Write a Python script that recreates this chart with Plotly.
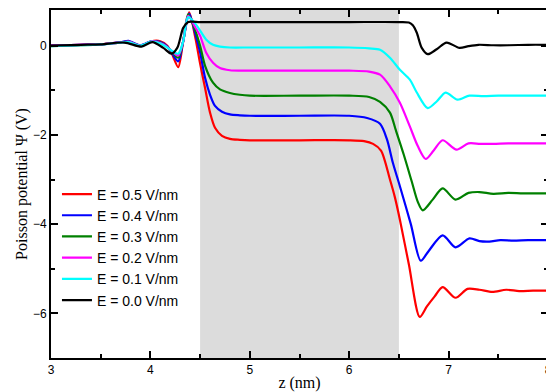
import plotly.graph_objects as go

# ---- data ----
z_05 = [3.0, 3.3, 3.5, 3.7, 3.78, 3.9, 4.01, 4.1, 4.17, 4.22, 4.28, 4.33, 4.39, 4.45, 4.5,
        4.55, 4.6, 4.65, 4.72, 4.8, 4.9, 5.0, 5.5, 6.0, 6.15, 6.24, 6.32, 6.41, 6.46, 6.51,
        6.6, 6.71, 6.78, 6.86, 6.94, 7.07, 7.19, 7.31, 7.44, 7.58, 7.71, 7.85, 8.0]
psi_05 = [0.0, 0.02, 0.03, 0.07, 0.09, 0.0, 0.1, 0.1, 0.0, -0.2, -0.48, 0.1, 0.75, 0.2, -0.4,
          -0.95, -1.5, -1.84, -2.02, -2.09, -2.11, -2.12, -2.12, -2.12, -2.14, -2.2, -2.35, -3.0, -3.4, -3.9,
          -4.9, -6.08, -5.85, -5.62, -5.41, -5.65, -5.45, -5.47, -5.52, -5.47, -5.5, -5.49, -5.49]

z_04 = [3.0, 3.3, 3.5, 3.7, 3.78, 3.9, 4.01, 4.1, 4.17, 4.22, 4.28, 4.33, 4.39, 4.45, 4.5,
        4.55, 4.6, 4.65, 4.72, 4.8, 4.9, 5.0, 5.5, 6.0, 6.18, 6.31, 6.38, 6.44, 6.51, 6.62,
        6.72, 6.8, 6.94, 7.07, 7.21, 7.31, 7.41, 7.52, 7.65, 7.8, 8.0]
psi_04 = [0.0, 0.02, 0.03, 0.08, 0.11, 0.01, 0.1, 0.08, -0.02, -0.18, -0.35, 0.1, 0.72, 0.28, -0.15,
          -0.72, -1.1, -1.35, -1.48, -1.54, -1.56, -1.57, -1.57, -1.57, -1.62, -1.75, -2.1, -2.63, -3.15, -4.0,
          -4.82, -4.6, -4.25, -4.52, -4.32, -4.38, -4.39, -4.36, -4.37, -4.36, -4.36]

z_03 = [3.0, 3.3, 3.5, 3.7, 3.78, 3.9, 4.01, 4.1, 4.17, 4.22, 4.28, 4.33, 4.38, 4.45, 4.5,
        4.55, 4.63, 4.7, 4.8, 4.9, 5.0, 5.5, 6.0, 6.2, 6.31, 6.41, 6.47, 6.55, 6.63, 6.69,
        6.74, 6.84, 6.94, 7.07, 7.2, 7.31, 7.45, 7.6, 7.75, 8.0]
psi_03 = [-0.01, 0.01, 0.03, 0.07, 0.09, 0.0, 0.09, 0.07, -0.03, -0.15, -0.27, 0.1, 0.7, 0.35, 0.0,
          -0.45, -0.83, -0.98, -1.06, -1.1, -1.12, -1.12, -1.12, -1.15, -1.26, -1.5, -1.9, -2.45, -3.05, -3.5,
          -3.69, -3.45, -3.2, -3.45, -3.3, -3.28, -3.32, -3.3, -3.31, -3.31]

z_02 = [3.0, 3.3, 3.5, 3.7, 3.78, 3.9, 4.01, 4.1, 4.17, 4.22, 4.28, 4.33, 4.38, 4.45, 4.5,
        4.56, 4.63, 4.7, 4.8, 4.9, 5.0, 5.5, 6.0, 6.2, 6.31, 6.41, 6.51, 6.61, 6.69, 6.77,
        6.85, 6.94, 7.08, 7.2, 7.32, 7.45, 7.6, 7.8, 8.0]
psi_02 = [0.0, 0.02, 0.03, 0.07, 0.09, 0.0, 0.1, 0.06, -0.03, -0.13, -0.22, 0.1, 0.67, 0.42, 0.22,
          -0.15, -0.38, -0.5, -0.55, -0.56, -0.56, -0.56, -0.56, -0.58, -0.65, -0.91, -1.28, -1.81, -2.25, -2.54,
          -2.35, -2.12, -2.33, -2.19, -2.2, -2.2, -2.19, -2.19, -2.19]

z_01 = [3.0, 3.3, 3.5, 3.7, 3.78, 3.9, 4.01, 4.1, 4.17, 4.22, 4.28, 4.33, 4.38, 4.45, 4.5,
        4.56, 4.63, 4.7, 4.8, 5.0, 5.5, 6.0, 6.2, 6.31, 6.41, 6.51, 6.61, 6.68, 6.79, 6.88,
        6.97, 7.09, 7.21, 7.35, 7.5, 7.7, 8.0]
psi_01 = [-0.01, 0.01, 0.03, 0.07, 0.08, 0.0, 0.09, 0.05, -0.04, -0.12, -0.18, 0.1, 0.64, 0.5, 0.34,
          0.14, 0.02, -0.02, -0.04, -0.04, -0.04, -0.04, -0.06, -0.09, -0.27, -0.54, -0.76, -1.05, -1.40, -1.25,
          -1.05, -1.21, -1.12, -1.13, -1.12, -1.12, -1.12]

z_00 = [3.0, 3.3, 3.5, 3.74, 3.91, 4.02, 4.13, 4.21, 4.27, 4.33, 4.38, 4.42, 4.5, 5.0, 5.5,
        6.0, 6.5, 6.6, 6.64, 6.68, 6.73, 6.79, 6.88, 6.98, 7.11, 7.2, 7.3, 7.45, 7.6, 7.8, 8.0]
psi_00 = [0.0, 0.02, 0.03, 0.07, -0.02, 0.08, -0.05, -0.18, -0.05, 0.4, 0.53, 0.54, 0.53, 0.53, 0.53,
          0.53, 0.53, 0.52, 0.46, 0.29, -0.05, -0.19, -0.08, 0.07, -0.05, -0.01, 0.02, 0.01, 0.01, 0.02, 0.02]

series_names = ["E = 0.5 V/nm", "E = 0.4 V/nm", "E = 0.3 V/nm",
                "E = 0.2 V/nm", "E = 0.1 V/nm", "E = 0.0 V/nm"]
series_z = [z_05, z_04, z_03, z_02, z_01, z_00]
series_psi = [psi_05, psi_04, psi_03, psi_02, psi_01, psi_00]
series_colors = ["#ff0000", "#0000ff", "#008000", "#ff00ff", "#00ffff", "#000000"]

shaded_region = [4.5, 6.5]
x_tick_values = [3, 4, 5, 6, 7, 8]
y_tick_values = [-6, -4, -2, 0]

fig = go.Figure()
for name, zz, pp, col in zip(series_names, series_z, series_psi, series_colors):
    fig.add_trace(go.Scatter(x=zz, y=pp, mode="lines", name=name,
                             line=dict(color=col, width=2.2, shape="spline", smoothing=0.8)))

fig.add_shape(type="rect", xref="x", yref="paper", x0=shaded_region[0], x1=shaded_region[1],
              y0=0, y1=1, fillcolor="#dcdcdc", line=dict(width=0), layer="below")

axis_common = dict(showline=True, linecolor="black", linewidth=2, mirror="allticks",
                   ticks="inside", ticklen=7, tickwidth=2, tickcolor="black",
                   showgrid=False, zeroline=False, automargin=False,
                   ticklabeloverflow="allow",
                   tickfont=dict(family="Liberation Sans, Arial, sans-serif", size=12, color="black"))

fig.update_xaxes(range=[3, 8], tickvals=x_tick_values,
                 minor=dict(dtick=0.5, tick0=3, ticks="inside", ticklen=4, tickwidth=2, tickcolor="black"),
                 title=dict(text="z (nm)", font=dict(family="Liberation Serif, Times New Roman, serif",
                                                     size=16, color="black"), standoff=0),
                 **axis_common)
fig.update_yaxes(range=[-7, 0.8], tickvals=y_tick_values,
                 minor=dict(dtick=1, tick0=0, ticks="inside", ticklen=4, tickwidth=2, tickcolor="black"),
                 title=dict(text="Poisson potential Ψ (V)",
                            font=dict(family="Liberation Serif, Times New Roman, serif", size=16, color="black"),
                            standoff=1),
                 **axis_common)

# page body has an 8 px default margin, so the figure is 8 px smaller and margins shifted
fig.update_layout(
    width=546, height=384,
    margin=dict(l=43, r=6, t=2, b=34),
    plot_bgcolor="white", paper_bgcolor="white",
    showlegend=True,
    legend=dict(x=0.012, y=0.516, xanchor="left", yanchor="top", bgcolor="rgba(0,0,0,0)",
                font=dict(family="Liberation Sans, Arial, sans-serif", size=14, color="black"),
                tracegroupgap=0, itemwidth=30),
)

fig.write_html("out.html")
